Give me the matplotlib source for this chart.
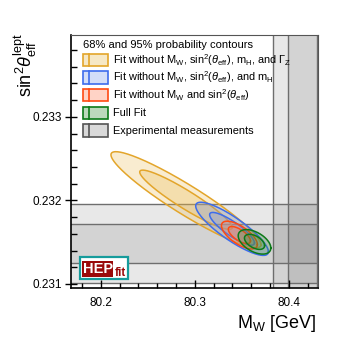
import numpy as np
import matplotlib
matplotlib.use("Agg")
import matplotlib.pyplot as plt
from matplotlib.patches import Rectangle

plt.rcParams['font.family'] = ['Liberation Sans', 'DejaVu Sans']
plt.rcParams['mathtext.fontset'] = 'custom'
plt.rcParams['mathtext.rm'] = 'Liberation Sans'
plt.rcParams['mathtext.it'] = 'Liberation Sans:italic'
plt.rcParams['mathtext.bf'] = 'Liberation Sans:bold'

# ---------------- data ----------------
fit_labels = [
    r"Fit without M$_{\rm W}$, sin$^2$($\theta_{\rm eff}$), m$_{\rm H}$, and $\Gamma_{\rm Z}$",
    r"Fit without M$_{\rm W}$, sin$^2$($\theta_{\rm eff}$), and m$_{\rm H}$",
    r"Fit without M$_{\rm W}$ and sin$^2$($\theta_{\rm eff}$)",
    "Full Fit",
]
# mean MW, mean sin2, sigma MW, sigma sin2, correlation
fit_mw = [80.2907, 80.3397, 80.3475, 80.3636]
fit_s2 = [0.232008, 0.231660, 0.231585, 0.231504]
fit_smw = [0.0326, 0.0158, 0.0078, 0.0071]
fit_ss2 = [0.000235, 0.000130, 0.0000680, 0.0000600]
fit_rho = [-0.935, -0.860, -0.680, -0.500]
fit_edge = ['#e3a52a', '#3d6cec', '#ff4a12', '#0c7a18']
fit_fill = ['#e8b545', '#7090e6', '#ff7a55', '#2f8f35']

exp_label = "Experimental measurements"
mw_exp, mw_err = 80.4145, 0.0155
s2_exp, s2_err = 0.231483, 0.000237

contour_levels = [0.68, 0.95]

xticks = [80.2, 80.3, 80.4]
yticks = [0.231, 0.232, 0.233]

# ---------------- figure ----------------
fig = plt.figure(figsize=(3.53, 3.40), dpi=100)
ax = fig.add_axes([71/353, 1-288.3/340, 246.7/353, 253.3/340])
ax.set_xlim(80.1684, 80.4308)
ax.set_ylim(0.230948, 0.233980)

# experimental bands
for k in (2, 1):
    ax.axvspan(mw_exp - k*mw_err, mw_exp + k*mw_err, color='black', alpha=0.09, lw=0, zorder=1)
    ax.axhspan(s2_exp - k*s2_err, s2_exp + k*s2_err, color='black', alpha=0.09, lw=0, zorder=1)
    for sgn in (-1, 1):
        ax.axvline(mw_exp + sgn*k*mw_err, color='#6e6e6e', lw=1.0, zorder=1.5)
        ax.axhline(s2_exp + sgn*k*s2_err, color='#6e6e6e', lw=1.0, zorder=1.5)

# contours (2D gaussian)
t = np.linspace(0, 2*np.pi, 400)
for i in range(len(fit_mw)):
    for lev in contour_levels:
        r = np.sqrt(-2*np.log(1-lev))
        xs = fit_mw[i] + r*fit_smw[i]*np.cos(t)
        ys = fit_s2[i] + r*fit_ss2[i]*(fit_rho[i]*np.cos(t) + np.sqrt(1-fit_rho[i]**2)*np.sin(t))
        ax.fill(xs, ys, color=fit_fill[i], alpha=0.25, lw=0, zorder=2+i)
        ax.plot(xs, ys, color=fit_edge[i], lw=1.1, zorder=2.5+i)

ax.set_xticks(xticks)
ax.set_xticklabels([f"{v:.1f}" for v in xticks])
ax.set_yticks(yticks)
ax.set_yticklabels([f"{v:.3f}" for v in yticks])
ax.xaxis.set_minor_locator(matplotlib.ticker.MultipleLocator(0.02))
ax.yaxis.set_minor_locator(matplotlib.ticker.MultipleLocator(0.0002))
ax.tick_params(axis='y', which='major', direction='inout', length=9, width=1, labelsize=8.5, pad=2)
ax.tick_params(axis='y', which='minor', direction='in', length=4, width=1)
ax.tick_params(axis='x', which='major', direction='in', length=6, width=1, labelsize=8.5, pad=6)
ax.tick_params(axis='x', which='minor', direction='in', length=3.5, width=1)
for s in ('left', 'bottom'):
    ax.spines[s].set_linewidth(1.2)
for s in ('top', 'right'):
    ax.spines[s].set_color('#555555')
    ax.spines[s].set_linewidth(0.8)

# legend (manual)
tr = ax.transAxes
ax.text(0.05, 0.960, "68% and 95% probability contours", transform=tr, fontsize=8.0,
        va='center', ha='left', zorder=10)
leg_y = [0.9014, 0.8323, 0.7632, 0.6917, 0.6226]
leg_edge = fit_edge + ['#555555']
leg_fill = ['#f6e8c6', '#d3def8', '#ffd3c6', '#bcd9bc', '#d9d9d9']
leg_text = fit_labels + [exp_label]
for y, ec, fc, txt in zip(leg_y, leg_edge, leg_fill, leg_text):
    ax.add_patch(Rectangle((0.05, y-0.025), 0.101, 0.05, transform=tr, facecolor=fc,
                           edgecolor=ec, lw=1.2, zorder=10))
    ax.plot([0.071, 0.071], [y-0.025, y+0.025], transform=tr, color=ec, lw=1.2, zorder=11)
    ax.text(0.171, y, txt, transform=tr, fontsize=7.9, va='center', ha='left', zorder=10)

# HEPfit logo
ax.add_patch(Rectangle((0.0365, 0.0355), 0.1955, 0.0869, transform=tr, facecolor='white',
                       edgecolor='#169c9c', lw=1.6, zorder=12))
ax.add_patch(Rectangle((0.0458, 0.0458), 0.1257, 0.0632, transform=tr, facecolor='#9a0a0a',
                       edgecolor='none', zorder=13))
ax.text(0.108, 0.0775, "HEP", transform=tr, color='white', fontsize=10.5, fontweight='bold',
        va='center', ha='center', zorder=14)
ax.text(0.2006, 0.050, "fit", transform=tr, color='#9a0a0a', fontsize=8.5, fontweight='bold',
        va='baseline', ha='center', zorder=14)

# axis titles
fig.text(316.7/353, 1-323/340, r"M$_{\rm W}$ [GeV]", fontsize=13, ha='right', va='center')
fig.text(25.5/353, 1-33/340, r"sin$^2\theta_{\rm eff}^{\rm lept}$", fontsize=13, rotation=90,
         ha='center', va='top')

fig.savefig("out.png", dpi=100)
